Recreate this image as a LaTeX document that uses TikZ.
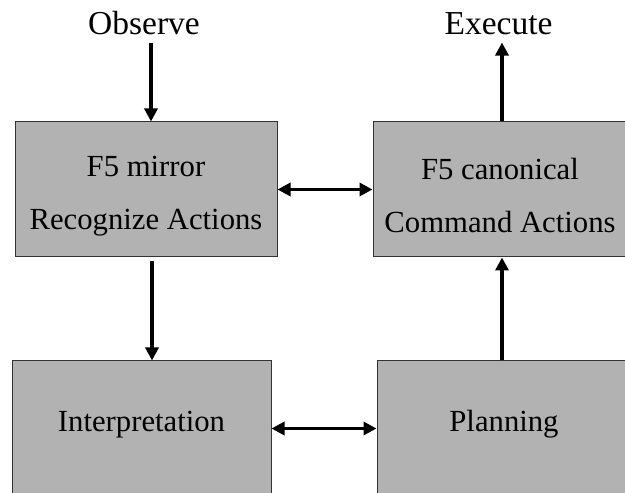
\documentclass[tikz,border=0pt]{standalone}
\usepackage{fontspec}
\setmainfont{Liberation Serif}
\usetikzlibrary{arrows.meta}
\newcommand{\boxstrut}{\rule{0pt}{33pt}}

\begin{document}
\begin{tikzpicture}[x=1pt, y=1pt,
	box/.style = {draw=black!80, line width=1pt, fill=gray!60, align=center, inner sep=0pt, minimum height=135pt, font=\fontsize{30.7}{53}\selectfont},
	oneline/.style = {text depth=15pt},
	lbl/.style = {font=\fontsize{33.5}{40}\selectfont, inner sep=7pt},
	arr/.style = {line width=3.5pt, -{Triangle[length=13pt, width=13pt]}},
	darr/.style = {line width=3.5pt, {Triangle[length=13pt, width=13pt]}-{Triangle[length=13pt, width=13pt]}}]
	\useasboundingbox (0,0) rectangle (625,493);
	% boxes
	\node[box, minimum width=262pt] (mirror) at (146,303.5) {\boxstrut F5 mirror\\Recognize Actions};
	\node[box, minimum width=254pt] (canon) at (500,303.5) {\boxstrut F5 canonical\\Command Actions};
	\node[box, oneline, minimum width=259pt] (interp) at (141.5,64.5) {Interpretation};
	\node[box, oneline, minimum width=254pt] (plan) at (504,64.5) {Planning};
	\node[lbl, anchor=base] (observe) at (144,458) {Observe};
	\node[lbl, anchor=base] (execute) at (498.5,458) {Execute};
	% arrows
	\draw[arr] ([xshift=7pt]observe.south) -- ([xshift=5pt]mirror.north);
	\draw[arr] ([xshift=2pt]canon.north) -- ([xshift=3.5pt]execute.south);
	\draw[darr] (mirror.east) -- (canon.west);
	\draw[darr] (interp.east) -- (plan.west);
	\draw[arr, shorten <=4pt] ([xshift=6pt]mirror.south) -- ([xshift=6pt]mirror.south |- interp.north);
	\draw[arr] ([xshift=-2pt]plan.north) -- ([xshift=-2pt]plan.north |- canon.south);
\end{tikzpicture}
\end{document}
